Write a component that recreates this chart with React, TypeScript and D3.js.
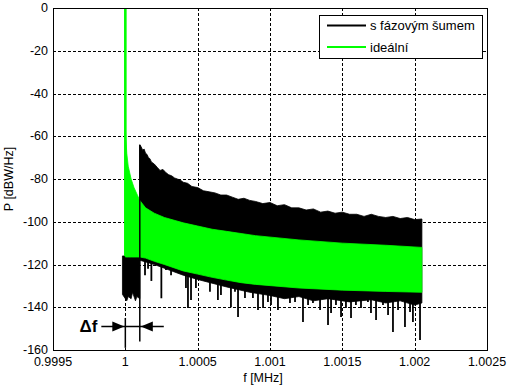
import React from 'react';
import * as d3 from 'd3';

// axis ticks
const xTicks = [0.9995, 1, 1.0005, 1.001, 1.0015, 1.002, 1.0025];
const xTickLabels = ['0.9995', '1', '1.0005', '1.001', '1.0015', '1.002', '1.0025'];
const yTicks = [0, -20, -40, -60, -80, -100, -120, -140, -160];

const legendLabels = ['s fázovým šumem', 'ideální'];

// ideal spectrum (green): upper and lower envelope
const idealF = [1.0, 1.00001, 1.00002, 1.00004, 1.00006, 1.00008, 1.0001, 1.00014, 1.0002, 1.00027, 1.0004, 1.0005, 1.0006, 1.0007, 1.0008, 1.0009, 1.0012, 1.0015, 1.0018, 1.00205];
const idealTop = [-56, -68, -74, -80, -84, -87, -90, -93.5, -96, -98, -100.5, -102, -103.5, -104.5, -105.5, -106.5, -108.5, -110, -111, -112];
const idealBottom = [-116.5, -116.5, -116.5, -116.5, -116.5, -116.5, -116.5, -117, -118.5, -120, -123, -124.5, -126, -127.3, -128.5, -129.3, -131, -132, -132.6, -133];
const idealPeak = [0, -116];

// spectrum with phase noise (black): upper edge
const noisyTopF = [0.99998, 1.0001, 1.0001, 1.00011, 1.00012, 1.00013, 1.00014, 1.00015, 1.00016, 1.00017, 1.00018, 1.0002, 1.00022, 1.00024, 1.00026, 1.00028, 1.0003, 1.00032, 1.00034, 1.00036, 1.00038, 1.0004, 1.00043, 1.00046, 1.0005, 1.00054, 1.00058, 1.00062, 1.00066, 1.0007, 1.00074, 1.00078, 1.00082, 1.00086, 1.0009, 1.00095, 1.001, 1.00105, 1.0011, 1.00115, 1.0012, 1.00125, 1.0013, 1.00135, 1.0014, 1.00145, 1.0015, 1.00155, 1.0016, 1.00165, 1.0017, 1.00175, 1.0018, 1.00185, 1.0019, 1.00195, 1.002, 1.00205];
const noisyTopDb = [-116, -116, -64, -65, -66.5, -66, -68, -68.5, -70, -70.5, -72, -73, -74.5, -76, -75.5, -77, -78, -78.5, -79.5, -80, -80.5, -81.5, -82, -83.5, -84, -85.5, -86, -86.5, -87.5, -87.5, -88.5, -89.5, -89, -90, -90.5, -91.5, -91, -92.5, -92, -93.5, -93.5, -94.5, -94, -95.5, -95, -96, -95.5, -96.5, -96.5, -97.5, -96.5, -97.5, -98, -97.5, -98.5, -98, -99, -98.7];
// lower dense edge
const noisyBottomF = [0.99998, 1.00001, 1.00002, 1.00004, 1.00005, 1.00007, 1.00008, 1.0001, 1.0001, 1.0002, 1.0004, 1.0005, 1.0007, 1.00086, 1.001, 1.0011, 1.0012, 1.0013, 1.0014, 1.00155, 1.0017, 1.0018, 1.0019, 1.002, 1.00205];
const noisyBottomDb = [-134, -137, -135, -136, -133, -137, -135, -136, -118, -120, -125, -127, -130.5, -133, -134.5, -136, -135, -137, -136, -137.5, -136.5, -138, -137, -139, -138];
// downward noise spikes
const spikeF = [1.000136, 1.000157, 1.00018, 1.000249, 1.000281, 1.000316, 1.000378, 1.000419, 1.000433, 1.000454, 1.000488, 1.000523, 1.000585, 1.00064, 1.000661, 1.00073, 1.000758, 1.000779, 1.000827, 1.000882, 1.000917, 1.000952, 1.000986, 1.001007, 1.001055, 1.00109, 1.001138, 1.001173, 1.001228, 1.001263, 1.001297, 1.001346, 1.001401, 1.001422, 1.001456, 1.001491, 1.001525, 1.00156, 1.001594, 1.001629, 1.001677, 1.001698, 1.001733, 1.001781, 1.001816, 1.00185, 1.001885, 1.001933, 1.001968, 1.001988, 1.002037];
const spikeDb = [-125, -122, -127.7, -135.8, -122.6, -125, -124, -131, -140.3, -136.6, -131, -127, -132.8, -136.6, -134.3, -140, -132.8, -144.6, -135.7, -135.7, -141.3, -140.3, -137.5, -139, -141.3, -135.7, -138, -137.5, -146.9, -139, -138, -141.3, -148.3, -142.7, -139, -144.6, -140.3, -145, -139, -140.3, -137.5, -142.7, -146, -139, -143.6, -151.6, -141.3, -149.2, -142.2, -146.9, -155.3];

// delta f marker
const deltaF = [1.0, 1.0001];
const deltaY = -149;

export default function App() {
  const W = 511;
  const H = 388;
  const x = d3.scaleLinear().domain([0.9995, 1.0025]).range([53, 487]);
  const y = d3.scaleLinear().domain([-160, 0]).range([350, 8]);
  const font = 'Liberation Sans, Arial, sans-serif';

  const idealArea =
    d3
      .area<number>()
      .x((d) => x(d))
      .y0((_, i) => y(idealBottom[i]))
      .y1((_, i) => y(idealTop[i]))(idealF) || '';

  // closed polygon for the noisy band: top edge left->right, bottom edge right->left
  const topPts = noisyTopF.map((f, i) => [x(f), y(noisyTopDb[i])] as [number, number]);
  const botPts = noisyBottomF.map((f, i) => [x(f), y(noisyBottomDb[i])] as [number, number]).reverse();
  const noisyPoly = d3.line()(topPts.concat(botPts)) + 'Z';

  const ax = x(deltaF[0]);
  const bx = x(deltaF[1]);
  const ay = y(deltaY);

  return (
    <svg width={W} height={H} style={{ position: 'absolute', left: 0, top: 0, background: '#fff' }} fontFamily={font}>
      <rect x={0} y={0} width={W} height={H} fill="#fff" />
      {/* grid */}
      <g stroke="#000" strokeWidth={1} strokeDasharray="3,2" shapeRendering="crispEdges">
        {xTicks.slice(1, -1).map((t) => (
          <line key={'gx' + t} x1={Math.round(x(t)) + 0.5} x2={Math.round(x(t)) + 0.5} y1={y(0)} y2={y(-160)} />
        ))}
        {yTicks.slice(1, -1).map((t) => (
          <line key={'gy' + t} x1={x(0.9995)} x2={x(1.0025)} y1={Math.round(y(t)) + 0.5} y2={Math.round(y(t)) + 0.5} />
        ))}
      </g>
      {/* noisy spectrum */}
      <path d={noisyPoly} fill="#000" stroke="#000" strokeWidth={0.8} />
      <g stroke="#000" strokeWidth={1.8}>
        {spikeF.map((f, i) => (
          <line key={'s' + i} x1={x(f)} x2={x(f)} y1={y(-118)} y2={y(spikeDb[i])} />
        ))}
      </g>
      {/* ideal spectrum */}
      <path d={idealArea} fill="#00ff00" stroke="#00ff00" strokeWidth={0.8} />
      <line x1={x(1)} x2={x(1)} y1={y(idealPeak[0])} y2={y(idealPeak[1])} stroke="#00ff00" strokeWidth={2.6} />
      {/* delta f annotation */}
      <g stroke="#000" strokeWidth={1.5}>
        <line x1={ax} x2={ax} y1={y(-145)} y2={y(-159)} />
        <line x1={bx} x2={bx} y1={y(-64)} y2={y(-156)} />
        <line x1={ax - 24} x2={bx + 24} y1={ay} y2={ay} />
      </g>
      <path d={`M${ax - 1},${ay} L${ax - 13},${ay - 5} L${ax - 13},${ay + 5} Z`} fill="#000" />
      <path d={`M${bx + 1},${ay} L${bx + 13},${ay - 5} L${bx + 13},${ay + 5} Z`} fill="#000" />
      <text x={ax - 28} y={ay + 6} textAnchor="end" fontSize={17} fontWeight="bold" fill="#000">
        Δf
      </text>
      {/* frame */}
      <rect x={x(0.9995)} y={y(0)} width={x(1.0025) - x(0.9995)} height={y(-160) - y(0)} fill="none" stroke="#000" strokeWidth={1} shapeRendering="crispEdges" />
      {/* tick labels */}
      <g fontSize={12.5} fill="#000">
        {yTicks.map((t) => (
          <text key={'yl' + t} x={48} y={y(t) + 4} textAnchor="end">
            {t}
          </text>
        ))}
        {xTicks.map((t, i) => (
          <text key={'xl' + t} x={x(t)} y={366} textAnchor="middle">
            {xTickLabels[i]}
          </text>
        ))}
        <text x={263} y={382} textAnchor="middle">
          f [MHz]
        </text>
        <text transform={`translate(13,${(y(0) + y(-160)) / 2}) rotate(-90)`} textAnchor="middle">
          P [dBW/Hz]
        </text>
      </g>
      {/* legend */}
      <g>
        <rect x={319.5} y={15.5} width={163} height={43} fill="#fff" stroke="#000" strokeWidth={1} shapeRendering="crispEdges" />
        <line x1={327} x2={366} y1={25.5} y2={25.5} stroke="#000" strokeWidth={2} />
        <line x1={327} x2={366} y1={47} y2={47} stroke="#00ff00" strokeWidth={2} />
        <text x={370} y={30} fontSize={13} fill="#000">
          {legendLabels[0]}
        </text>
        <text x={370} y={52} fontSize={13} fill="#000">
          {legendLabels[1]}
        </text>
      </g>
    </svg>
  );
}
